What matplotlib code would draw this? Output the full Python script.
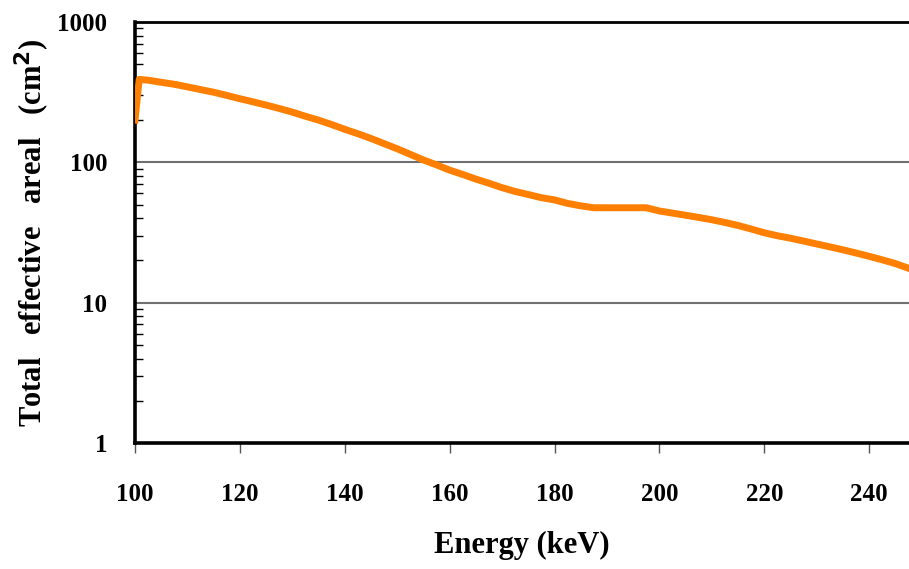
import matplotlib.pyplot as plt
from matplotlib.ticker import LogLocator, FixedLocator, NullFormatter

# energia (keV) e área efetiva total (cm^2)
energy = [100, 100.8, 102.5, 105, 107.5, 110, 112.5, 115, 117.5, 120,
          122.5, 125, 127.5, 130, 132.5, 135, 137.5, 140, 142.5, 145,
          147.5, 150, 152.5, 155, 157.5, 160, 162.5, 165, 167.5, 170,
          172.5, 175, 177.5, 180, 182.5, 185, 187.5, 190, 192.5, 195,
          197.5, 200, 202.5, 205, 207.5, 210, 212.5, 215, 217.5, 220,
          222.5, 225, 227.5, 230, 232.5, 235, 237.5, 240, 242.5, 245, 247.5]
area = [200, 390, 385, 372, 360, 345, 330, 316, 300, 284,
        270, 256, 242, 228, 213, 200, 186, 172, 160, 148,
        136, 125, 114, 104, 96, 88, 82, 76, 71, 66,
        62, 59, 56, 54, 51, 49, 47.5, 47.5, 47.5, 47.5,
        47.5, 45, 43.5, 42, 40.5, 39, 37.3, 35.5, 33.5, 31.5,
        30, 28.8, 27.5, 26.2, 25, 23.8, 22.6, 21.4, 20.2, 19, 17.6]

x_ticks = [100, 120, 140, 160, 180, 200, 220, 240]
y_ticks = [1, 10, 100, 1000]

plt.rcParams['font.family'] = ['Liberation Serif', 'DejaVu Serif']
plt.rcParams['font.weight'] = 'bold'

fig = plt.figure(figsize=(9.09, 5.69), dpi=100)
ax = fig.add_axes([0.1485, 0.2214, 0.8515, 0.7399])

ax.plot(energy, area, color='#FF8000', lw=5, zorder=3)

ax.set_yscale('log')
ax.set_ylim(1, 1000)
ax.set_xlim(100, 247.6)

# grade horizontal só em 10 e 100
for yv in [10, 100]:
    ax.axhline(yv, color='#707070', lw=1.5, zorder=1)

ax.xaxis.set_major_locator(FixedLocator(x_ticks))
ax.yaxis.set_major_locator(FixedLocator(y_ticks))
ax.set_yticklabels([str(v) for v in y_ticks])
ax.yaxis.set_minor_locator(LogLocator(base=10, subs=range(2, 10)))
ax.yaxis.set_minor_formatter(NullFormatter())

ax.tick_params(axis='x', which='major', direction='out', length=7, width=1,
               color='#555555', labelsize=18, pad=22)
ax.tick_params(axis='y', which='major', direction='in', length=0,
               labelsize=18, pad=20)
ax.tick_params(axis='y', which='minor', direction='in', length=6, width=1,
               color='black')

for side in ['left', 'bottom']:
    ax.spines[side].set_linewidth(2.6)
ax.spines['top'].set_linewidth(2)
ax.spines['right'].set_visible(False)

ax.set_xlabel('Energy (keV)', fontsize=22, fontweight='bold', labelpad=18)
ax.set_ylabel('Total   effective   areal   (cm$^\\mathbf{2}$)', fontsize=22,
              fontweight='bold', labelpad=4)

plt.savefig('out.png', dpi=100)
